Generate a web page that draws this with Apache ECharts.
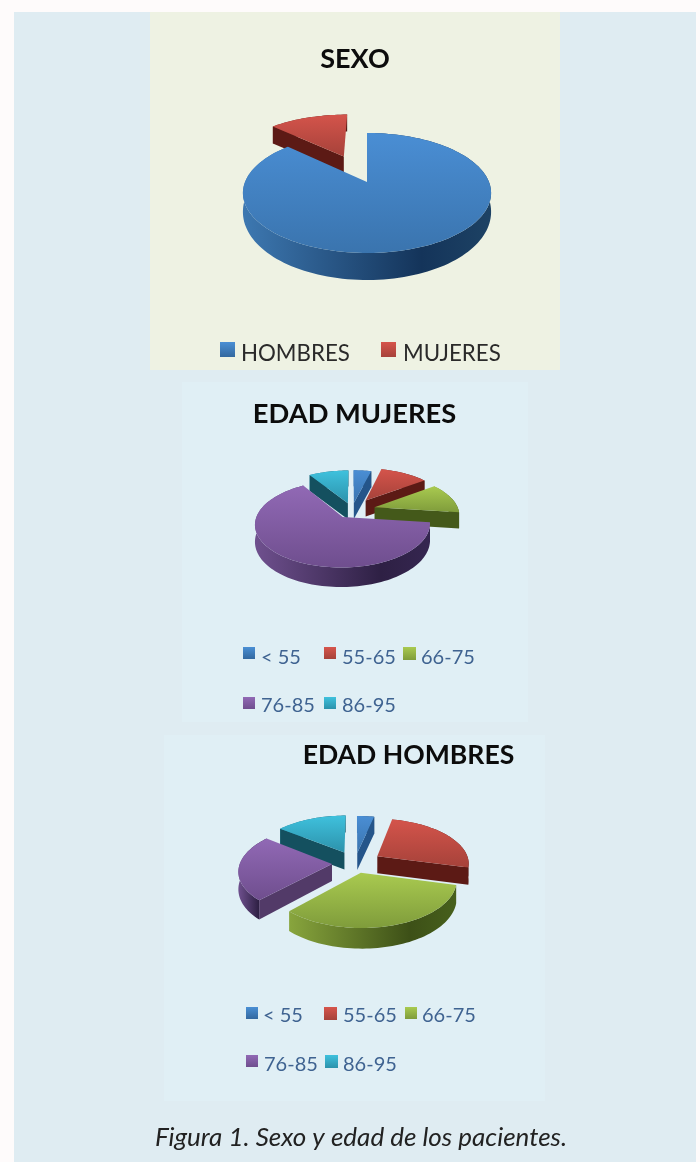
<!DOCTYPE html>
<html>
<head>
<meta charset="utf-8">
<script src="https://cdn.jsdelivr.net/npm/echarts@6/dist/echarts.min.js"></script>
<style>
  html, body { margin: 0; padding: 0; background: #fefbfb; }
  #main { width: 700px; height: 1162px; filter: blur(0.5px); }
</style>
</head>
<body>
<div id="main"></div>
<script>
// datos (%)
const categoriasSexo = ['HOMBRES', 'MUJERES']
const valoresSexo = [87, 13]
const categoriasEdad = ['< 55', '55-65', '66-75', '76-85', '86-95']
const valoresMujeres = [4, 11, 12, 64, 9]
const valoresHombres = [3.5, 25.5, 33, 23.5, 14.5]

const fuente = 'Lato, "Open Sans", sans-serif'

// top gradient, wall gradient (left, dark, right), cut face
const paleta = {
  azul: { top: ['#4a8ed4', '#3a74ae'], wall: ['#3d78b1', '#14345a', '#1d4264'], cut: '#24558a', key: ['#4a8fd4', '#33689f'] },
  rojo: { top: ['#d4544b', '#a6423a'], wall: ['#7c2b26', '#4c1411', '#571a15'], cut: '#5c1a15', key: ['#d6554c', '#a6423a'] },
  verde: { top: ['#a9ca50', '#7f9c3b'], wall: ['#88a53d', '#3d5017', '#47601c'], cut: '#44591a', key: ['#a9ca50', '#7f9c3b'] },
  morado: { top: ['#9169b5', '#6f4e8e'], wall: ['#6f508e', '#2e2044', '#352650'], cut: '#523a68', key: ['#9169b5', '#6f4e8e'] },
  cian: { top: ['#3fc1dd', '#2c92ab'], wall: ['#2f93ab', '#0f4a5a', '#125060'], cut: '#14505f', key: ['#3fc1dd', '#2c92ab'] }
}
const coloresSexo = [paleta.azul, paleta.rojo]
const coloresEdad = [paleta.azul, paleta.rojo, paleta.verde, paleta.morado, paleta.cian]

function vGrad(c) {
  return new echarts.graphic.LinearGradient(0, 0, 0, 1, [
    { offset: 0, color: c[0] },
    { offset: 1, color: c[1] }
  ])
}

function hGrad(c) {
  return new echarts.graphic.LinearGradient(0, 0, 1, 0, [
    { offset: 0, color: c[0] },
    { offset: 0.72, color: c[1] },
    { offset: 1, color: c[2] }
  ])
}

// pseudo 3D pie, drawn one slice at a time with a small perspective
function pie3d(nombre, valores, colores, cfg) {
  const total = valores.reduce((a, b) => a + b, 0)

  function project(x, y) {
    const s = 1 / (1 - cfg.k * y)
    return [cfg.cx + cfg.rx * x * s, cfg.cy + cfg.ry * y * s]
  }
  function depth(y) {
    return cfg.d0 + cfg.d1 * Math.max(y, 0)
  }
  function punto(ox, oy, ang, r) {
    return [ox + r * Math.sin(ang), oy - r * Math.cos(ang)]
  }
  function abajo(w) {
    const p = project(w[0], w[1])
    return [p[0], p[1] + depth(w[1])]
  }

  return {
    type: 'custom',
    name: nombre,
    coordinateSystem: 'none',
    silent: true,
    data: valores,
    renderItem: function(params, api) {
      const i = params.dataIndex
      let acum = 0
      for (let j = 0; j < i; j++) acum += valores[j]
      const a0 = acum / total * Math.PI * 2
      const a1 = (acum + api.value(0)) / total * Math.PI * 2
      const mid = (a0 + a1) / 2
      const e = cfg.explode[i]
      const ox = e * Math.sin(mid)
      const oy = -e * Math.cos(mid)
      const c = colores[i]
      const z = Math.round((1 - Math.cos(mid)) * 100) * 5

      const arco = []
      const pasos = Math.max(2, Math.ceil((a1 - a0) / (Math.PI / 90)))
      for (let n = 0; n <= pasos; n++) {
        arco.push(punto(ox, oy, a0 + (a1 - a0) * n / pasos, 1))
      }
      const centro = [ox, oy]
      const children = []

      // outer wall
      children.push({
        type: 'polygon',
        z2: z,
        shape: { points: arco.map(w => project(w[0], w[1])).concat(arco.slice().reverse().map(abajo)) },
        style: { fill: hGrad(c.wall) }
      })
      // cut faces, only the ones turned to the viewer
      const caras = []
      if (Math.sin(a0) < -0.001) caras.push(arco[0])
      if (Math.sin(a1) > 0.001) caras.push(arco[arco.length - 1])
      caras.forEach(w => {
        children.push({
          type: 'polygon',
          z2: z + 1,
          shape: { points: [project(centro[0], centro[1]), project(w[0], w[1]), abajo(w), abajo(centro)] },
          style: { fill: c.cut }
        })
      })
      // top
      children.push({
        type: 'polygon',
        z2: z + 2,
        shape: { points: [project(centro[0], centro[1])].concat(arco.map(w => project(w[0], w[1]))) },
        style: { fill: vGrad(c.top) }
      })
      return { type: 'group', children: children }
    }
  }
}

function panel(x, y, w, h, fill) {
  return { type: 'rect', z: -10, silent: true, shape: { x: x, y: y, width: w, height: h }, style: { fill: fill } }
}

function leyenda(texto, colorKey, kx, ky, ks, tx, ty, size, fill) {
  return [
    { type: 'rect', shape: { x: kx, y: ky, width: ks, height: ks }, style: { fill: vGrad(colorKey.key) } },
    { type: 'text', style: { text: texto, x: tx, y: ty, fill: fill, font: size + 'px ' + fuente, textVerticalAlign: 'middle' } }
  ]
}

const azulTexto = '#3f6391'

const graficos = [
  panel(14, 12, 682, 1150, '#dfecf2'),
  panel(150, 12, 410, 358, '#eef2e3'),
  panel(182, 382, 346, 340, '#e0eff5'),
  panel(164, 735, 381, 366, '#e0eff5')
].concat(
  leyenda(categoriasSexo[0], paleta.azul, 220, 342, 15, 241, 354, 22.3, '#2a2a2a'),
  leyenda(categoriasSexo[1], paleta.rojo, 381, 342, 15, 403, 354, 22.3, '#2a2a2a'),
  leyenda(categoriasEdad[0], paleta.azul, 243, 647, 12, 261, 658, 20, azulTexto),
  leyenda(categoriasEdad[1], paleta.rojo, 324, 647, 12, 342, 658, 20, azulTexto),
  leyenda(categoriasEdad[2], paleta.verde, 403, 647, 13, 421, 658, 20, azulTexto),
  leyenda(categoriasEdad[3], paleta.morado, 243, 697, 12, 261, 706, 20, azulTexto),
  leyenda(categoriasEdad[4], paleta.cian, 324, 697, 12, 342, 706, 20, azulTexto),
  leyenda(categoriasEdad[0], paleta.azul, 246, 1007, 12, 263, 1016, 20, azulTexto),
  leyenda(categoriasEdad[1], paleta.rojo, 324, 1007, 13, 343, 1016, 20, azulTexto),
  leyenda(categoriasEdad[2], paleta.verde, 405, 1007, 12, 422, 1016, 20, azulTexto),
  leyenda(categoriasEdad[3], paleta.morado, 246, 1055, 12, 264, 1065, 20, azulTexto),
  leyenda(categoriasEdad[4], paleta.cian, 325, 1055, 13, 343, 1065, 20, azulTexto),
  [{
    type: 'text',
    style: {
      text: 'Figura 1. Sexo y edad de los pacientes.',
      x: 361,
      y: 1138,
      fill: '#222',
      font: 'italic 26px ' + fuente,
      textAlign: 'center',
      textVerticalAlign: 'middle'
    }
  }]
)

function titulo(texto, x, y, size) {
  return {
    text: texto,
    left: x,
    top: y,
    padding: 0,
    textAlign: 'center',
    textVerticalAlign: 'middle',
    textStyle: { fontFamily: fuente, fontWeight: 'bold', fontSize: size, color: '#0c0c0c' }
  }
}

const chart = echarts.init(document.getElementById('main'), null, { renderer: 'canvas' })
chart.setOption({
  animation: false,
  title: [
    titulo('SEXO', 355, 59, 27),
    titulo('EDAD MUJERES', 354.5, 414, 27.3),
    titulo('EDAD HOMBRES', 408.5, 755, 26.6)
  ],
  graphic: graficos,
  series: [
    pie3d('SEXO', valoresSexo, coloresSexo, { cx: 367, cy: 182, rx: 122, ry: 58, k: 0.183, d0: 17, d1: 10, explode: [0, 0.52] }),
    pie3d('EDAD MUJERES', valoresMujeres, coloresEdad, { cx: 352, cy: 510, rx: 84, ry: 40, k: 0.16, d0: 16, d1: 3, explode: [0.18, 0.3, 0.28, 0.2, 0.18] }),
    pie3d('EDAD HOMBRES', valoresHombres, coloresEdad, { cx: 355, cy: 863, rx: 92, ry: 44.7, k: 0.138, d0: 17, d1: 3, explode: [0.23, 0.29, 0.22, 0.25, 0.27] })
  ]
})
</script>
</body>
</html>
